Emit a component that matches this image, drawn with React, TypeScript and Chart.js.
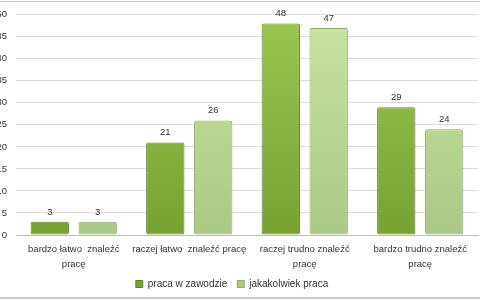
import React, { useEffect, useRef } from "react";
import { Chart, registerables } from "chart.js";

Chart.register(...registerables);

const categories: (string | string[])[] = [
  ["bardzo łatwo  znaleźć", "pracę"],
  "raczej łatwo  znaleźć pracę",
  ["raczej trudno znaleźć", "pracę"],
  ["bardzo trudno znaleźć", "pracę"],
];
const seriesNames = ["praca w zawodzie", "jakakolwiek praca"];
const pracaWZawodzie = [3, 21, 48, 29];
const jakakolwiekPraca = [3, 26, 47, 24];
const yTicks = [0, 5, 10, 15, 20, 25, 30, 35, 40, 45, 50];

const FONT = "'Liberation Sans', Arial, sans-serif";

const valueLabels = {
  id: "valueLabels",
  afterDatasetsDraw(chart: any) {
    const ctx = chart.ctx;
    ctx.save();
    ctx.font = `9.5px ${FONT}`;
    ctx.fillStyle = "#333";
    ctx.textAlign = "center";
    ctx.textBaseline = "bottom";
    chart.data.datasets.forEach((ds: any, i: number) => {
      const meta = chart.getDatasetMeta(i);
      meta.data.forEach((bar: any, j: number) => {
        ctx.fillText(String(ds.data[j]), bar.x, bar.y - 5);
      });
    });
    ctx.restore();
  },
};

function grad(chart: any, top: string, bottom: string) {
  const area = chart.chartArea;
  if (!area) return bottom;
  const g = chart.ctx.createLinearGradient(0, area.top, 0, area.bottom);
  g.addColorStop(0, top);
  g.addColorStop(1, bottom);
  return g;
}

export default function App() {
  const ref = useRef<HTMLCanvasElement>(null);
  useEffect(() => {
    document.body.style.margin = "0";
    const chart = new Chart(ref.current!, {
      type: "bar",
      data: {
        labels: categories,
        datasets: [
          {
            label: seriesNames[0],
            data: pracaWZawodzie,
            backgroundColor: (c: any) => grad(c.chart, "#9cc550", "#77a233"),
            borderColor: "#5f8526",
            borderWidth: 1,
            borderRadius: 2,
            borderSkipped: false,
            categoryPercentage: 0.83,
            barPercentage: 0.8,
          },
          {
            label: seriesNames[1],
            data: jakakolwiekPraca,
            backgroundColor: (c: any) => grad(c.chart, "#c9e2a0", "#aac985"),
            borderColor: "#8faa6b",
            borderWidth: 1,
            borderRadius: 2,
            borderSkipped: false,
            categoryPercentage: 0.83,
            barPercentage: 0.8,
          },
        ],
      },
      options: {
        animation: false,
        responsive: false,
        maintainAspectRatio: false,
        layout: { padding: { top: 8, right: 2, bottom: 1, left: 0 } },
        plugins: {
          tooltip: { enabled: false },
          legend: {
            position: "bottom",
            labels: {
              boxWidth: 7,
              boxHeight: 7,
              font: { family: FONT, size: 10 },
              color: "#333",
              padding: 10,
            },
          },
        },
        scales: {
          x: {
            grid: { display: false, drawTicks: false },
            border: { color: "#bbb" },
            afterFit: (axis: any) => {
              axis.height = 34;
            },
            ticks: {
              font: { family: FONT, size: 9.5, lineHeight: 1.55 },
              color: "#333",
              maxRotation: 0,
              autoSkip: false,
              padding: 7,
            },
          },
          y: {
            min: 0,
            max: 50,
            afterBuildTicks: (axis: any) => {
              axis.ticks = yTicks.map((v) => ({ value: v }));
            },
            afterFit: (axis: any) => {
              axis.width = 30;
            },
            grid: { color: "#dcdcdc", drawTicks: false },
            border: { display: false },
            ticks: {
              font: { family: FONT, size: 9.5 },
              color: "#333",
              padding: 9,
            },
          },
        },
      },
      plugins: [valueLabels],
    });
    return () => chart.destroy();
  }, []);
  return (
    <div
      style={{
        position: "fixed",
        left: 0,
        top: 0,
        width: 480,
        height: 300,
        overflow: "hidden",
        background: "#fff",
      }}
    >
      <canvas
        ref={ref}
        width={494}
        height={300}
        style={{ position: "absolute", left: -14, top: 0, width: 494, height: 300 }}
      />
      <div style={{ position: "absolute", left: 0, top: 1, width: 480, height: 1, background: "#c8c8c8" }} />
      <div style={{ position: "absolute", left: 0, top: 297, width: 480, height: 2, background: "#c8c8c8" }} />
    </div>
  );
}
